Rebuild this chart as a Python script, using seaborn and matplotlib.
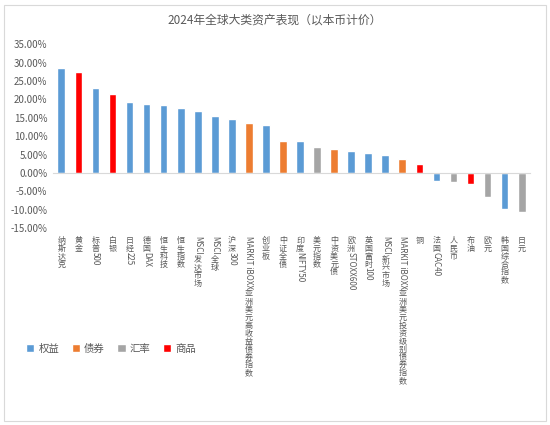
import matplotlib
matplotlib.use("Agg")
import matplotlib.pyplot as plt
import matplotlib.transforms as mtransforms
from matplotlib.patches import Rectangle
from matplotlib.ticker import FixedLocator, FuncFormatter
import seaborn as sns
import pandas as pd

assets = ["纳斯达克", "黄金", "标普500", "白银", "日经225", "德国DAX", "恒生科技", "恒生指数",
          "MSCI发达市场", "MSCI全球", "沪深300", "MARKIT iBOXX亚洲美元高收益债券指数", "创业板",
          "中证全债", "印度NIFTY50", "美元指数", "中资美元债", "欧洲STOXX600", "英国富时100",
          "MSCI新兴市场", "MARKIT iBOXX亚洲美元投资级别债券指数", "铜", "法国CAC40", "人民币",
          "布油", "欧元", "韩国综合指数", "日元"]
returns = [28.6, 27.5, 23.1, 21.5, 19.2, 18.8, 18.5, 17.6, 16.9, 15.6, 14.6, 13.7, 13.1,
           8.8, 8.8, 7.0, 6.6, 6.1, 5.5, 5.0, 3.9, 2.5, -2.1, -2.4, -3.0, -6.4, -9.7, -10.5]
classes = ["权益", "商品", "权益", "商品", "权益", "权益", "权益", "权益", "权益", "权益", "权益",
           "债券", "权益", "债券", "权益", "汇率", "债券", "权益", "权益", "权益", "债券", "商品",
           "权益", "汇率", "商品", "汇率", "权益", "汇率"]
class_order = ["权益", "债券", "汇率", "商品"]
palette = {"权益": "#5B9BD5", "债券": "#ED7D31", "汇率": "#A5A5A5", "商品": "#FF0000"}
yticks = [-15, -10, -5, 0, 5, 10, 15, 20, 25, 30, 35]
title = "2024年全球大类资产表现（以本币计价）"

df = pd.DataFrame({"asset": assets, "ret": returns, "cls": classes})

sns.set_style("white")
plt.rcParams["font.family"] = ["Noto Sans CJK SC", "DejaVu Sans"]
plt.rcParams["axes.unicode_minus"] = False

DPI = 100
fig = plt.figure(figsize=(5.5, 4.25), dpi=DPI)
ax = fig.add_axes([0.096, 0.463, 0.868, 0.433])

sns.barplot(data=df, x="asset", y="ret", hue="cls", hue_order=class_order, palette=palette,
            dodge=False, width=0.45, ax=ax, saturation=1, legend=True)

ax.set_ylim(yticks[0], yticks[-1])
ax.set_xlim(-0.5, len(assets) - 0.5)
ax.yaxis.set_major_locator(FixedLocator(yticks))
ax.yaxis.set_major_formatter(FuncFormatter(lambda v, p: f"{v:.2f}%"))
ax.tick_params(axis="y", labelsize=7, colors="#595959", length=0, pad=4)
ax.set_xlabel("")
ax.set_ylabel("")
for s in ["top", "right", "left"]:
    ax.spines[s].set_visible(False)
ax.spines["bottom"].set_position(("data", 0))
ax.spines["bottom"].set_color("#D9D9D9")
ax.spines["bottom"].set_linewidth(0.8)
ax.set_xticks(range(len(assets)))
ax.set_xticklabels([""] * len(assets))
ax.tick_params(axis="x", which="major", length=0)
ax.xaxis.set_minor_locator(FixedLocator([i - 0.5 for i in range(len(assets) + 1)]))
ax.tick_params(axis="x", which="minor", length=3, color="#D9D9D9", width=0.8, direction="out")

sns.move_legend(ax, "center left", bbox_to_anchor=(0.03, 0.18), bbox_transform=fig.transFigure,
                ncol=4, frameon=False, title=None, fontsize=7.5, handlelength=0.8,
                handleheight=0.8, handletextpad=0.4, columnspacing=1.2, labelcolor="#595959")

fig.text(0.5, 0.952, title, ha="center", va="center", fontsize=8.5, color="#595959")

fig.patches.append(Rectangle((0.008, 0.01), 0.984, 0.978, transform=fig.transFigure,
                             fill=False, edgecolor="#D9D9D9", linewidth=0.8))

# vertical (stacked) category labels
fig.canvas.draw()
renderer = fig.canvas.get_renderer()
fs = 5.8
base = ax.get_xaxis_transform()


def is_cjk(ch):
    return ord(ch) > 0x2E80


def segments(label):
    segs = []
    cur = ""
    for ch in label:
        if is_cjk(ch):
            if cur:
                segs.append(("lat", cur))
                cur = ""
            segs.append(("cjk", ch))
        else:
            cur += ch
    if cur:
        segs.append(("lat", cur))
    return segs


start_pts = -5.5
for i, lab in enumerate(assets):
    off = start_pts
    for kind, txt in segments(lab):
        tr = mtransforms.offset_copy(base, fig=fig, x=0, y=off, units="points")
        if kind == "cjk":
            t = ax.text(i, 0, txt, transform=tr, ha="center", va="top", fontsize=fs,
                        color="#595959", clip_on=False)
            off -= fs * 0.98
        else:
            t = ax.text(i, 0, txt, transform=tr, ha="center", va="top", fontsize=fs,
                        color="#595959", rotation=-90, clip_on=False)
            bb = t.get_window_extent(renderer)
            off -= bb.height * 72.0 / DPI + fs * 0.05

fig.savefig("out.png", dpi=DPI)
